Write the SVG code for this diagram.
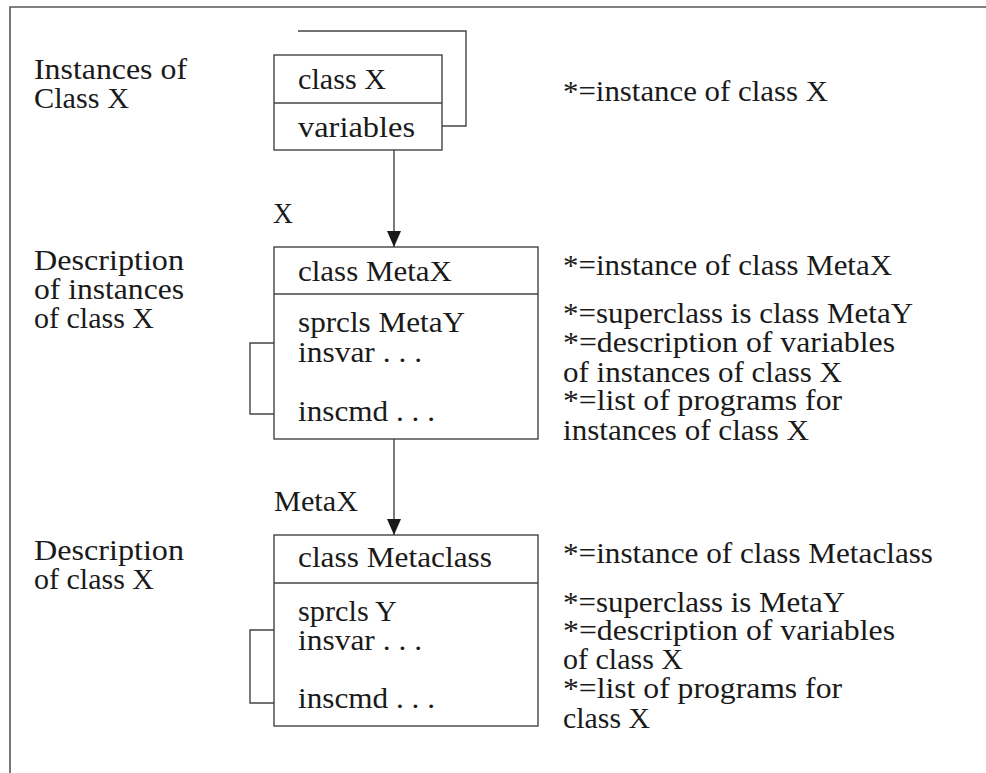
<svg xmlns="http://www.w3.org/2000/svg" width="986" height="773" viewBox="0 0 986 773">
  <style>
    .t { font-family: "Liberation Serif", "Times New Roman", serif; font-size: 30px; fill: #1a1a1a; }
    .box { fill: #fff; stroke: #444; stroke-width: 1.4; }
    .ln { fill: none; stroke: #444; stroke-width: 1.4; }
    .frame { fill: none; stroke: #555; stroke-width: 1.6; }
  </style>
  <defs>
    <marker id="arrow" viewBox="0 0 16 14" refX="16" refY="7" markerWidth="16" markerHeight="14" markerUnits="userSpaceOnUse" orient="auto">
      <path d="M0,0 L16,7 L0,14 z" fill="#1a1a1a"/>
    </marker>
  </defs>
  <rect width="986" height="773" fill="#fff"/>

  <!-- page frame (open on the right and bottom) -->
  <path class="frame" d="M10,773 V7 H986"/>

  <!-- row labels on the left -->
  <g id="labels-left">
    <text class="t" x="34" y="79" textLength="153" lengthAdjust="spacingAndGlyphs">Instances of</text>
    <text class="t" x="34" y="108" textLength="95" lengthAdjust="spacingAndGlyphs">Class X</text>
    <text class="t" x="34" y="270" textLength="150" lengthAdjust="spacingAndGlyphs">Description</text>
    <text class="t" x="34" y="299" textLength="150" lengthAdjust="spacingAndGlyphs">of instances</text>
    <text class="t" x="34" y="328" textLength="120" lengthAdjust="spacingAndGlyphs">of class X</text>
    <text class="t" x="34" y="560" textLength="150" lengthAdjust="spacingAndGlyphs">Description</text>
    <text class="t" x="34" y="589" textLength="120" lengthAdjust="spacingAndGlyphs">of class X</text>
  </g>

  <!-- node: instance of class X -->
  <g id="node-instance">
    <rect class="box" x="274" y="55" width="168" height="95"/>
    <line class="ln" x1="274" y1="103" x2="442" y2="103"/>
    <text class="t" x="298" y="89" textLength="88" lengthAdjust="spacingAndGlyphs">class X</text>
    <text class="t" x="298" y="137" textLength="117" lengthAdjust="spacingAndGlyphs">variables</text>
  </g>

  <!-- node: class X (instance of MetaX) -->
  <g id="node-classX">
    <rect class="box" x="274" y="247" width="264" height="192"/>
    <line class="ln" x1="274" y1="294" x2="538" y2="294"/>
    <text class="t" x="298" y="281" textLength="154" lengthAdjust="spacingAndGlyphs">class MetaX</text>
    <text class="t" x="298" y="332" textLength="167" lengthAdjust="spacingAndGlyphs">sprcls MetaY</text>
    <text class="t" x="298" y="362" textLength="124" lengthAdjust="spacingAndGlyphs">insvar . . .</text>
    <text class="t" x="298" y="421" textLength="137" lengthAdjust="spacingAndGlyphs">inscmd . . .</text>
  </g>

  <!-- node: MetaX (instance of Metaclass) -->
  <g id="node-metaX">
    <rect class="box" x="274" y="535" width="264" height="191"/>
    <line class="ln" x1="274" y1="583" x2="538" y2="583"/>
    <text class="t" x="298" y="567" textLength="194" lengthAdjust="spacingAndGlyphs">class Metaclass</text>
    <text class="t" x="298" y="621" textLength="99" lengthAdjust="spacingAndGlyphs">sprcls Y</text>
    <text class="t" x="298" y="650" textLength="124" lengthAdjust="spacingAndGlyphs">insvar . . .</text>
    <text class="t" x="298" y="708" textLength="137" lengthAdjust="spacingAndGlyphs">inscmd . . .</text>
  </g>

  <!-- connectors -->
  <g id="connectors">
    <path class="ln" d="M298,31 H466 V126 H442"/>
    <path class="ln" d="M274,343 H250 V414 H274"/>
    <path class="ln" d="M274,630 H250 V703 H274"/>
    <line class="ln" x1="394" y1="150" x2="394" y2="247" marker-end="url(#arrow)"/>
    <line class="ln" x1="394" y1="439" x2="394" y2="535" marker-end="url(#arrow)"/>
    <text class="t" x="273" y="223" textLength="20" lengthAdjust="spacingAndGlyphs">X</text>
    <text class="t" x="274" y="511" textLength="84" lengthAdjust="spacingAndGlyphs">MetaX</text>
  </g>

  <!-- annotations on the right -->
  <g id="notes">
    <text class="t" x="563" y="101" textLength="265" lengthAdjust="spacingAndGlyphs">*=instance of class X</text>

    <text class="t" x="563" y="275" textLength="329" lengthAdjust="spacingAndGlyphs">*=instance of class MetaX</text>
    <text class="t" x="563" y="323" textLength="350" lengthAdjust="spacingAndGlyphs">*=superclass is class MetaY</text>
    <text class="t" x="563" y="352" textLength="332" lengthAdjust="spacingAndGlyphs">*=description of variables</text>
    <text class="t" x="563" y="382" textLength="279" lengthAdjust="spacingAndGlyphs">of instances of class X</text>
    <text class="t" x="563" y="410" textLength="279" lengthAdjust="spacingAndGlyphs">*=list of programs for</text>
    <text class="t" x="563" y="440" textLength="246" lengthAdjust="spacingAndGlyphs">instances of class X</text>

    <text class="t" x="563" y="563" textLength="370" lengthAdjust="spacingAndGlyphs">*=instance of class Metaclass</text>
    <text class="t" x="563" y="612" textLength="282" lengthAdjust="spacingAndGlyphs">*=superclass is MetaY</text>
    <text class="t" x="563" y="640" textLength="332" lengthAdjust="spacingAndGlyphs">*=description of variables</text>
    <text class="t" x="563" y="669" textLength="120" lengthAdjust="spacingAndGlyphs">of class X</text>
    <text class="t" x="563" y="698" textLength="279" lengthAdjust="spacingAndGlyphs">*=list of programs for</text>
    <text class="t" x="563" y="728" textLength="87" lengthAdjust="spacingAndGlyphs">class X</text>
  </g>
</svg>
